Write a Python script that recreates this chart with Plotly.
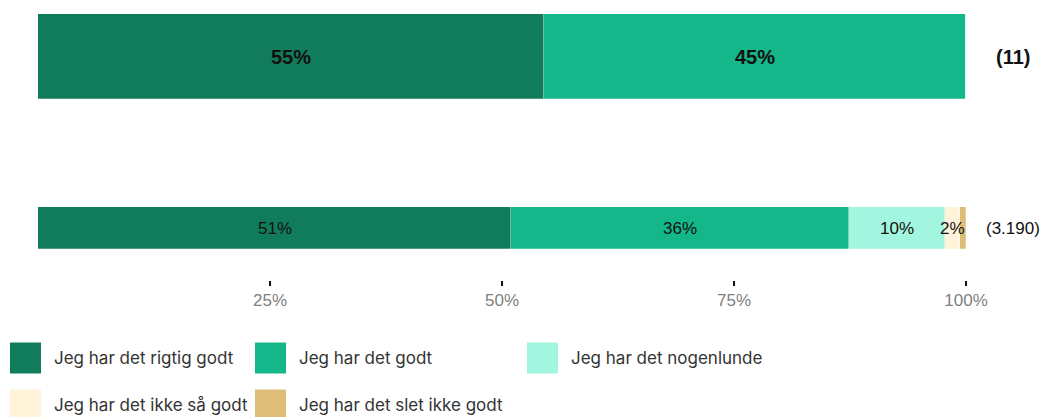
import plotly.graph_objects as go

# ---- data ----
groups = ["Gruppe", "Alle"]
counts = ["(11)", "(3.190)"]
series_names = [
    "Jeg har det rigtig godt",
    "Jeg har det godt",
    "Jeg har det nogenlunde",
    "Jeg har det ikke så godt",
    "Jeg har det slet ikke godt",
]
rigtig_godt = [54.55, 51.0]
godt = [45.45, 36.4]
nogenlunde = [0.0, 10.3]
ikke_saa_godt = [0.0, 1.7]
slet_ikke_godt = [0.0, 0.6]
tick_vals = [25, 50, 75, 100]
tick_text = ["25%", "50%", "75%", "100%"]

series_values = [rigtig_godt, godt, nogenlunde, ikke_saa_godt, slet_ikke_godt]
colors = ["#117C5B", "#14B789", "#A2F5DE", "#FFF3D9", "#DDBD78"]

# ---- layout constants (page is offset 8px by body margin) ----
OFF = 8
W, H = 1053 - OFF, 417 - OFF
ML = 38 - OFF
PW = 928
MR = W - ML - PW
MT = 0
PH = 280 - OFF
MB = H - MT - PH

UNIT = 171.5
ypos = [1, 0]          # top group, bottom group
y_top = 1 + (56.5 - OFF) / UNIT
y_bot = (228 - 280) / UNIT
bar_widths = [0.5, 0.25]
label_sizes = [20, 17]
FONT = "Liberation Sans, Arial, sans-serif"


def fmt(v):
    return f"{int(v + 0.5):d}%"


fig = go.Figure()
for name, vals, col in zip(series_names, series_values, colors):
    fig.add_trace(go.Bar(
        y=ypos, x=vals, orientation="h", name=name,
        width=bar_widths,
        marker=dict(color=col, line=dict(color="rgba(255,255,255,0.5)", width=0.5)),
        showlegend=False, hoverinfo="skip",
    ))

# value labels (drawn on top of all bars)
starts = [0.0 for _ in ypos]
for vals in series_values:
    for i, v in enumerate(vals):
        if v >= 1.5:
            t = fmt(v)
            fig.add_annotation(
                x=starts[i] + v / 2, y=ypos[i], xref="x", yref="y",
                text=f"<b>{t}</b>" if i == 0 else t, showarrow=False,
                xanchor="center", yanchor="middle",
                font=dict(family=FONT, size=label_sizes[i], color="#111111"),
            )
        starts[i] += v

# counts at right
for i, c in enumerate(counts):
    fig.add_annotation(
        x=(1013 - 38) / PW, xref="paper", y=ypos[i], yref="y",
        text=f"<b>{c}</b>" if i == 0 else c, showarrow=False,
        xanchor="center", yanchor="middle",
        font=dict(family=FONT, size=label_sizes[i], color="#111111"),
    )


# manual legend (large squares); coordinates in page pixels
def px_x(p):
    return (p - OFF - ML) / PW


def px_y(p):
    return (MT + PH - (p - OFF)) / PH


leg_pos = [(10, 358), (255, 358), (527, 358), (10, 405), (255, 405)]
sq = 31
for (lx, ly), name, col in zip(leg_pos, series_names, colors):
    fig.add_shape(type="rect", xref="paper", yref="paper",
                  x0=px_x(lx), x1=px_x(lx + sq),
                  y0=px_y(ly + sq / 2), y1=px_y(ly - sq / 2),
                  fillcolor=col, line=dict(width=0))
    fig.add_annotation(x=px_x(lx + sq + 11), y=px_y(ly), xref="paper", yref="paper",
                       text=name, showarrow=False, xanchor="left", yanchor="middle",
                       font=dict(family="Inter, Lato, sans-serif", size=17, color="#333333"))

fig.update_layout(
    width=W, height=H,
    margin=dict(l=ML, r=MR, t=MT, b=MB),
    paper_bgcolor="white", plot_bgcolor="white",
    barmode="stack", bargap=0,
    showlegend=False,
    xaxis=dict(range=[0, 100], tickvals=tick_vals, ticktext=tick_text,
               ticks="outside", ticklen=5, tickwidth=2, tickcolor="#111111",
               showgrid=False, zeroline=False, showline=False,
               tickfont=dict(family=FONT, size=17, color="#808080")),
    yaxis=dict(range=[y_bot, y_top], visible=False, showgrid=False, zeroline=False),
)

fig.write_html("out.html")
